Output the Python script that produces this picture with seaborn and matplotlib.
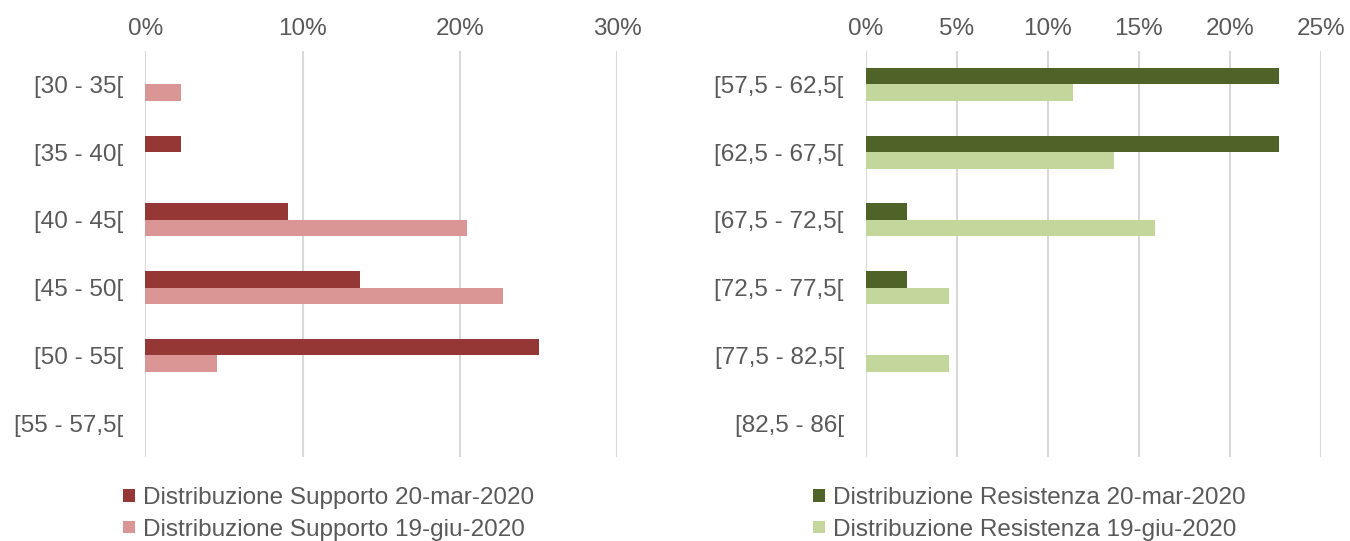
import matplotlib
matplotlib.use("Agg")
import matplotlib.pyplot as plt
import seaborn as sns
import pandas as pd
from matplotlib.patches import Patch
from matplotlib.ticker import PercentFormatter, MultipleLocator

# ---- data ----
supporto_cats = ["[30 - 35[", "[35 - 40[", "[40 - 45[", "[45 - 50[", "[50 - 55[", "[55 - 57,5["]
supporto_mar = [0.0, 2.27, 9.09, 13.64, 25.0, 0.0]
supporto_giu = [2.27, 0.0, 20.45, 22.73, 4.55, 0.0]

resistenza_cats = ["[57,5 - 62,5[", "[62,5 - 67,5[", "[67,5 - 72,5[", "[72,5 - 77,5[", "[77,5 - 82,5[", "[82,5 - 86["]
resistenza_mar = [22.73, 22.73, 2.27, 2.27, 0.0, 0.0]
resistenza_giu = [11.36, 13.64, 15.91, 4.55, 4.55, 0.0]

sup_labels = ["Distribuzione Supporto 20-mar-2020", "Distribuzione Supporto 19-giu-2020"]
res_labels = ["Distribuzione Resistenza 20-mar-2020", "Distribuzione Resistenza 19-giu-2020"]

sup_colors = ["#953735", "#D99694"]
res_colors = ["#4F6228", "#C3D69B"]

sns.set_style("white")
plt.rcParams["font.family"] = ["Liberation Sans", "DejaVu Sans"]

TXT = "#595959"
GRID = "#D9D9D9"
FS = 17.5

fig = plt.figure(figsize=(13.5, 5.41), dpi=100)
ax1 = fig.add_axes([0.1076, 0.1553, 0.3498, 0.7512])
ax2 = fig.add_axes([0.6415, 0.1553, 0.3368, 0.7512])


def make_df(cats, a, b, labels):
    return pd.DataFrame({
        "cat": cats + cats,
        "val": list(a) + list(b),
        "serie": [labels[0]] * len(cats) + [labels[1]] * len(cats),
    })


def draw(ax, df, cats, labels, colors, xmax, step):
    sns.barplot(data=df, y="cat", x="val", hue="serie", order=cats,
                hue_order=labels, palette=colors, orient="h", width=0.487,
                saturation=1, linewidth=0, legend=False, ax=ax)
    ax.set_xlim(0, xmax)
    ax.set_ylim(len(cats) - 0.5, -0.5)
    ax.xaxis.set_major_locator(MultipleLocator(step))
    ax.xaxis.set_major_formatter(PercentFormatter(xmax=100, decimals=0))
    ax.xaxis.set_ticks_position("top")
    ax.xaxis.set_label_position("top")
    ax.tick_params(axis="x", length=0, pad=7.5, labelsize=FS, labelcolor=TXT)
    ax.tick_params(axis="y", length=0, pad=16, labelsize=FS, labelcolor=TXT)
    ax.grid(axis="x", color=GRID, linewidth=1.5)
    ax.grid(axis="y", visible=False)
    ax.set_axisbelow(True)
    for s in ax.spines.values():
        s.set_visible(False)
    ax.set_xlabel("")
    ax.set_ylabel("")


draw(ax1, make_df(supporto_cats, supporto_mar, supporto_giu, sup_labels),
     supporto_cats, sup_labels, sup_colors, 30, 10)
draw(ax2, make_df(resistenza_cats, resistenza_mar, resistenza_giu, res_labels),
     resistenza_cats, res_labels, res_colors, 25, 5)


def add_legend(labels, colors, x):
    handles = [Patch(facecolor=c, edgecolor="none") for c in colors]
    leg = fig.legend(handles, labels, loc="upper left", bbox_to_anchor=(x, 0.0997),
                     frameon=False, fontsize=FS, labelcolor=TXT,
                     handlelength=0.5, handleheight=0.42, handletextpad=0.31,
                     labelspacing=0.39, borderpad=0, borderaxespad=0)
    return leg


add_legend(sup_labels, sup_colors, 123.3 / 1350)
add_legend(res_labels, res_colors, 813.3 / 1350)

fig.savefig("out.png", dpi=100)
